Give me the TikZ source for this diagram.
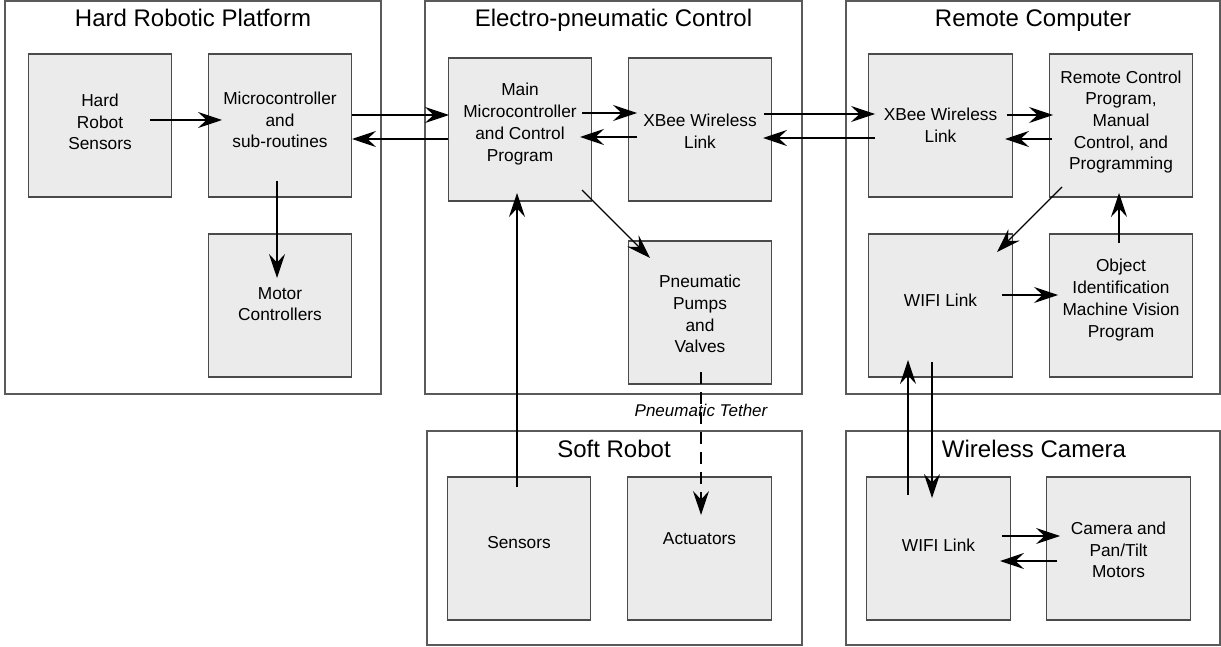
\documentclass[tikz,border=0pt]{standalone}
\usepackage{fontspec}
\setmainfont{Liberation Sans}
\usetikzlibrary{arrows.meta,calc}
\definecolor{boxfill}{HTML}{EBEBEB}
\definecolor{boxline}{HTML}{4A4A4A}
\definecolor{grpline}{HTML}{5A5A5A}
\begin{document}
\begin{tikzpicture}[x=1pt,y=-1pt,
  grp/.style={draw=grpline,line width=1.5pt,fill=white,minimum width=#1,inner sep=0pt},
  grptitle/.style={anchor=base,font=\fontsize{24}{29}\selectfont,inner sep=0pt},
  blk/.style={draw=boxline,line width=1.3pt,fill=boxfill,minimum width=143.5pt,minimum height=143pt,inner sep=0pt},
  lbl/.style={inner sep=0pt,align=center,font=\fontsize{17.3}{21.7}\selectfont},
  arr/.style={line width=1.2pt,-{Stealth[length=24pt,width=16pt,inset=8.5pt]}},
  tether/.style={arr,dash pattern=on 12pt off 8pt},
  tlabel/.style={font=\fontsize{17}{20}\selectfont\itshape,inner sep=0pt}]
\useasboundingbox (0,0) rectangle (1221,647);
% containers
\node[grp=376pt,minimum height=393pt] (hrp) at (193,197.5) {};
\node[grp=377pt,minimum height=393pt] (epc) at (613.5,197.5) {};
\node[grp=374pt,minimum height=393pt] (rc) at (1033,197.5) {};
\node[grp=375pt,minimum height=214pt] (sr) at (614.5,538) {};
\node[grp=374pt,minimum height=214pt] (wc) at (1033,538) {};
\node[grptitle] (thrp) at (193,27) {Hard Robotic Platform};
\node[grptitle] (tepc) at (613.5,27) {Electro-pneumatic Control};
\node[grptitle] (trc) at (1033,27) {Remote Computer};
\node[grptitle] (tsr) at (614,457) {Soft Robot};
\node[grptitle] (twc) at (1034,457) {Wireless Camera};
% blocks
\node[blk,label={[lbl,yshift=3.5pt]center:{Hard\\Robot\\Sensors}}] (hrs) at (100,125.5) {};
\node[blk,label={[lbl,yshift=5.5pt]center:{Microcontroller\\and\\sub-routines}}] (mcu) at (280,125.5) {};
\node[blk,label={[lbl,yshift=1.5pt]center:{Motor\\Controllers}}] (motor) at (280,305.5) {};
\node[blk,label={[lbl,yshift=5.5pt]center:{Main\\Microcontroller\\and Control\\Program}}] (main) at (520,129.5) {};
\node[blk,label={[lbl,yshift=-1.5pt]center:{XBee Wireless\\Link}}] (xbee1) at (700,129.5) {};
\node[blk,label={[lbl,yshift=-1.5pt]center:{Pneumatic\\Pumps\\and\\Valves}}] (pump) at (700,312.5) {};
\node[blk,label={[lbl]center:{XBee Wireless\\Link}}] (xbee2) at (940.5,125.5) {};
\node[blk,label={[lbl,yshift=3.5pt]center:{Remote Control\\Program,\\Manual\\Control, and\\Programming}}] (rcp) at (1121,125.5) {};
\node[blk,label={[lbl,yshift=5.5pt]center:{WIFI Link}}] (wifi1) at (940.5,305.5) {};
\node[blk,label={[lbl,yshift=5.5pt]center:{Object\\Identification\\Machine Vision\\Program}}] (obj) at (1121,305.5) {};
\node[blk,label={[lbl,yshift=5.5pt]center:{Sensors}}] (sens) at (519,548.5) {};
\node[blk,label={[lbl,yshift=9.5pt]center:{Actuators}}] (act) at (699.5,548.5) {};
\node[blk,label={[lbl,yshift=3.5pt]center:{WIFI Link}}] (wifi2) at (938.5,548.5) {};
\node[blk,label={[lbl,yshift=-1.5pt]center:{Camera and\\Pan/Tilt\\Motors}}] (cam) at (1118.5,548.5) {};
% connectors
\draw[arr] ($(hrs)+(50,-5.5)$) -- ($(mcu)+(-58,-5.5)$);
\draw[arr] ($(mcu)+(72,-10.5)$) -- ($(main)+(-71,-14.5)$);
\draw[arr] ($(main)+(-72,9.5)$) -- ($(mcu)+(72,13.5)$);
\draw[arr] ($(mcu)+(-3,55.5)$) -- ($(motor)+(-3,-27.5)$);
\draw[arr] ($(main)+(62,-16.5)$) -- ($(xbee1)+(-63,-16.5)$);
\draw[arr] ($(xbee1)+(-63,7.5)$) -- ($(main)+(60,7.5)$);
\draw[arr] ($(xbee1)+(64,-15.5)$) -- ($(xbee2)+(-65.5,-11.5)$);
\draw[arr] ($(xbee2)+(-65.5,12.5)$) -- ($(xbee1)+(63,8.5)$);
\draw[arr] ($(xbee2)+(66.5,-10.5)$) -- ($(rcp)+(-68,-10.5)$);
\draw[arr] ($(rcp)+(-69,13.5)$) -- ($(xbee2)+(64.5,13.5)$);
\draw[arr] ($(rcp)+(-59,61.5)$) -- ($(wifi1)+(56.5,-53.5)$);
\draw[arr] ($(obj)+(-2,-62.5)$) -- ($(rcp)+(-2,67.5)$);
\draw[arr] ($(wifi1)+(61.5,-10.5)$) -- ($(obj)+(-63,-10.5)$);
\draw[arr] ($(main)+(62,60.5)$) -- ($(pump)+(-50,-54.5)$);
\draw[arr] ($(sens)+(-2,-61.5)$) -- ($(main)+(-3,63.5)$);
\draw[tether] ($(pump)+(1,59.5)$) -- node[tlabel,pos=0.27] (tlab) {Pneumatic Tether} ($(act)+(1.5,-33.5)$);
\draw[arr] ($(wifi1)+(-8.5,56.5)$) -- ($(wifi2)+(-6.5,-50.5)$);
\draw[arr] ($(wifi2)+(-30.5,-53.5)$) -- ($(wifi1)+(-32.5,54.5)$);
\draw[arr] ($(wifi2)+(63.5,-12.5)$) -- ($(cam)+(-58.5,-12.5)$);
\draw[arr] ($(cam)+(-61.5,12.5)$) -- ($(wifi2)+(61.5,12.5)$);
\end{tikzpicture}
\end{document}
